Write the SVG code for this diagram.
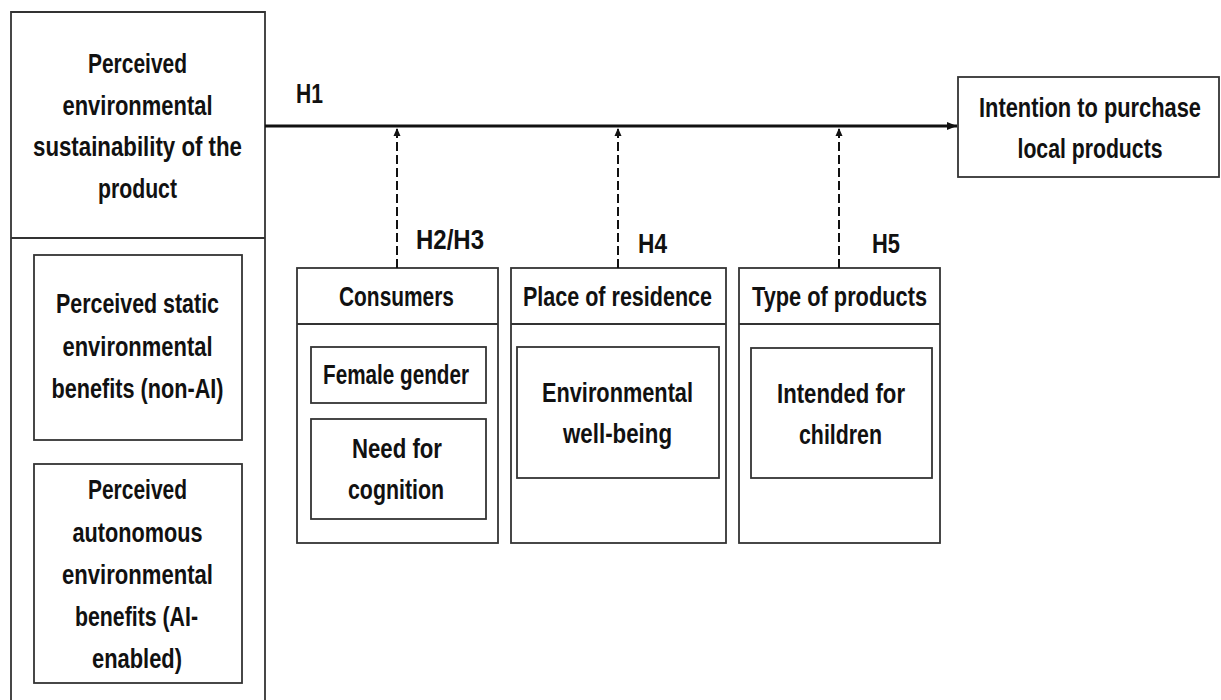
<svg xmlns="http://www.w3.org/2000/svg" width="1221" height="700" viewBox="0 0 1221 700">
<style>
.box{fill:#fff;stroke:#333;stroke-width:1.8}
.t{font-family:"Liberation Sans",Arial,sans-serif;font-weight:bold;font-size:28px;fill:#111;text-anchor:middle}
.main{stroke:#111;stroke-width:3;fill:none}
.dash{stroke:#111;stroke-width:2;stroke-dasharray:9 4;fill:none}
</style>
<defs>
<marker id="ah" markerUnits="userSpaceOnUse" markerWidth="12" markerHeight="12" refX="10" refY="5" orient="auto">
<path d="M0,1 L10,5 L0,9 Z" fill="#111"/>
</marker>
<marker id="ahs" markerUnits="userSpaceOnUse" markerWidth="10" markerHeight="10" refX="8" refY="4" orient="auto">
<path d="M0,0.5 L8,4 L0,7.5 Z" fill="#111"/>
</marker>
</defs>

<g id="sustainability">
<path class="box" d="M11,706 V12 H265 V706"/>
<line x1="11" y1="238" x2="265" y2="238" stroke="#333" stroke-width="1.8"/>
<text class="t" x="137.5" y="73" textLength="99" lengthAdjust="spacingAndGlyphs">Perceived</text>
<text class="t" x="137.5" y="114.5" textLength="150" lengthAdjust="spacingAndGlyphs">environmental</text>
<text class="t" x="137.5" y="156" textLength="209" lengthAdjust="spacingAndGlyphs">sustainability of the</text>
<text class="t" x="137.5" y="197.5" textLength="79" lengthAdjust="spacingAndGlyphs">product</text>
</g>

<g id="static-benefits">
<rect class="box" x="34" y="255" width="208" height="185"/>
<text class="t" x="137.5" y="313" textLength="163" lengthAdjust="spacingAndGlyphs">Perceived static</text>
<text class="t" x="137.5" y="355.5" textLength="150" lengthAdjust="spacingAndGlyphs">environmental</text>
<text class="t" x="137.5" y="398" textLength="172" lengthAdjust="spacingAndGlyphs">benefits (non-AI)</text>
</g>

<g id="autonomous-benefits">
<rect class="box" x="34" y="464" width="208" height="219"/>
<text class="t" x="137.5" y="499" textLength="99" lengthAdjust="spacingAndGlyphs">Perceived</text>
<text class="t" x="137.5" y="541.5" textLength="130" lengthAdjust="spacingAndGlyphs">autonomous</text>
<text class="t" x="137.5" y="584" textLength="151" lengthAdjust="spacingAndGlyphs">environmental</text>
<text class="t" x="136.5" y="626" textLength="123" lengthAdjust="spacingAndGlyphs">benefits (AI-</text>
<text class="t" x="137" y="668" textLength="90" lengthAdjust="spacingAndGlyphs">enabled)</text>
</g>

<g id="intention">
<rect class="box" x="958" y="77" width="261" height="100"/>
<text class="t" x="1090" y="117" textLength="222" lengthAdjust="spacingAndGlyphs">Intention to purchase</text>
<text class="t" x="1090" y="158" textLength="145" lengthAdjust="spacingAndGlyphs">local products</text>
</g>

<g id="consumers">
<rect class="box" x="297" y="268" width="201" height="275"/>
<line x1="297" y1="324" x2="498" y2="324" stroke="#333" stroke-width="1.8"/>
<text class="t" x="396.5" y="306" textLength="115" lengthAdjust="spacingAndGlyphs">Consumers</text>
<rect class="box" x="311" y="347" width="175" height="56"/>
<text class="t" x="396" y="384" textLength="146" lengthAdjust="spacingAndGlyphs">Female gender</text>
<rect class="box" x="311" y="419" width="175" height="100"/>
<text class="t" x="397" y="458" textLength="90" lengthAdjust="spacingAndGlyphs">Need for</text>
<text class="t" x="396" y="499" textLength="96" lengthAdjust="spacingAndGlyphs">cognition</text>
</g>

<g id="residence">
<rect class="box" x="511" y="268" width="215" height="275"/>
<line x1="511" y1="324" x2="726" y2="324" stroke="#333" stroke-width="1.8"/>
<text class="t" x="617.5" y="306" textLength="189" lengthAdjust="spacingAndGlyphs">Place of residence</text>
<rect class="box" x="517" y="347" width="202" height="131"/>
<text class="t" x="617.5" y="402" textLength="151" lengthAdjust="spacingAndGlyphs">Environmental</text>
<text class="t" x="617.5" y="443" textLength="109" lengthAdjust="spacingAndGlyphs">well-being</text>
</g>

<g id="products">
<rect class="box" x="739" y="268" width="201" height="275"/>
<line x1="739" y1="324" x2="940" y2="324" stroke="#333" stroke-width="1.8"/>
<text class="t" x="839.5" y="306" textLength="175" lengthAdjust="spacingAndGlyphs">Type of products</text>
<rect class="box" x="751" y="348" width="181" height="130"/>
<text class="t" x="841" y="403" textLength="128" lengthAdjust="spacingAndGlyphs">Intended for</text>
<text class="t" x="840.5" y="444" textLength="83" lengthAdjust="spacingAndGlyphs">children</text>
</g>

<g id="connectors">
<line class="main" x1="265" y1="126" x2="957" y2="126" marker-end="url(#ah)"/>
<line class="dash" x1="397" y1="268" x2="397" y2="128" marker-end="url(#ahs)"/>
<line class="dash" x1="618" y1="268" x2="618" y2="128" marker-end="url(#ahs)"/>
<line class="dash" x1="839" y1="268" x2="839" y2="128" marker-end="url(#ahs)"/>
<text class="t" x="309.5" y="103" textLength="27" lengthAdjust="spacingAndGlyphs">H1</text>
<text class="t" x="450" y="249" textLength="68" lengthAdjust="spacingAndGlyphs">H2/H3</text>
<text class="t" x="652.5" y="253" textLength="29" lengthAdjust="spacingAndGlyphs">H4</text>
<text class="t" x="886" y="253" textLength="28" lengthAdjust="spacingAndGlyphs">H5</text>
</g>
</svg>
